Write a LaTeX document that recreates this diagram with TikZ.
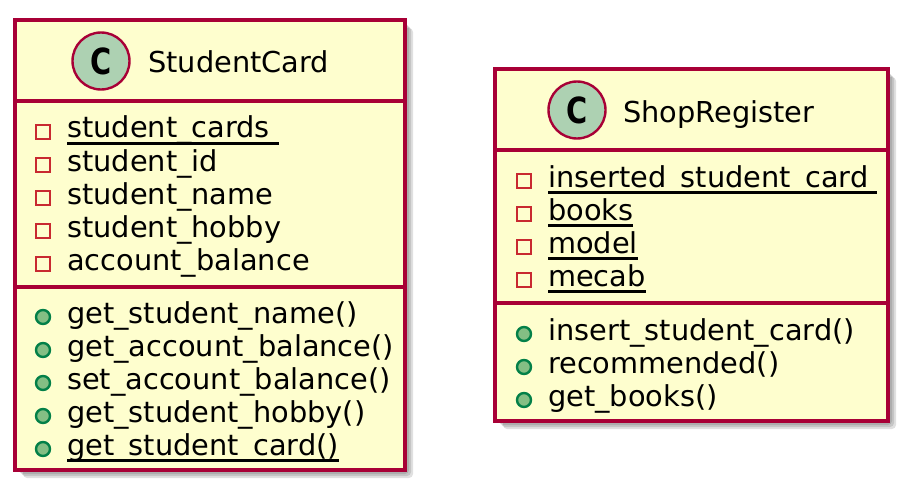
\documentclass[tikz,border=0pt]{standalone}
\usepackage{fontspec}
\setmainfont{DejaVu Sans}
\definecolor{umlfill}{HTML}{FEFECE}
\definecolor{umlborder}{HTML}{A80036}
\definecolor{classicon}{HTML}{ADD1B2}
\definecolor{privline}{HTML}{C82930}
\definecolor{pubfill}{HTML}{84BE84}
\definecolor{publine}{HTML}{038048}
\newcommand{\ulstatic}[1]{\setbox0\hbox{#1}\rlap{\rule[-7pt]{\wd0}{2.8pt}}\box0}

\begin{document}
\begin{tikzpicture}[x=1pt,y=-1pt,
  classbox/.style={draw=umlborder,fill=umlfill,line width=3.4pt},
  sepline/.style={draw=umlborder,line width=3.2pt},
  shadebox/.style={fill=black,opacity=0.12,rounded corners=4pt},
  classmark/.style={circle,draw=umlborder,fill=classicon,line width=2.4pt,minimum size=57pt,inner sep=0pt,font=\fontsize{36}{36}\selectfont\bfseries},
  member/.style={anchor=base west,inner sep=0pt,font=\fontsize{28.8}{30}\selectfont},
  privmark/.style={draw=privline,line width=2.4pt,minimum size=14pt,inner sep=0pt},
  pubmark/.style={circle,draw=publine,fill=pubfill,line width=2.4pt,minimum size=14pt,inner sep=0pt}]
\useasboundingbox (0,0) rectangle (915,500);
% StudentCard
\fill[shadebox] (19,24) rectangle (409,474);
\fill[shadebox] (21,26) rectangle (411,476);
\fill[shadebox] (23,28) rectangle (413,478);
\draw[classbox] (15,20) rectangle (405,470);
\draw[sepline] (15,101) -- (405,101);
\draw[sepline] (15,287) -- (405,287);
\node[classmark] (cardC) at (101,61) {\scalebox{0.8}[1]{C}};
\node[member] (cardName) at (148,73) {StudentCard};
\node[privmark] (cardP1) at (43,132) {};
\node[privmark] (cardP2) at (43,165) {};
\node[privmark] (cardP3) at (43,198) {};
\node[privmark] (cardP4) at (43,231) {};
\node[privmark] (cardP5) at (43,264) {};
\node[member] (cardA1) at (67,138) {\ulstatic{student\_cards\ }};
\node[member] (cardA2) at (67,171) {student\_id};
\node[member] (cardA3) at (67,204) {student\_name};
\node[member] (cardA4) at (67,237) {student\_hobby};
\node[member] (cardA5) at (67,270) {account\_balance};
\node[pubmark] (cardM1c) at (43,317) {};
\node[pubmark] (cardM2c) at (43,350) {};
\node[pubmark] (cardM3c) at (43,383) {};
\node[pubmark] (cardM4c) at (43,416) {};
\node[pubmark] (cardM5c) at (43,449) {};
\node[member] (cardM1) at (67,323) {get\_student\_name()};
\node[member] (cardM2) at (67,356) {get\_account\_balance()};
\node[member] (cardM3) at (67,389) {set\_account\_balance()};
\node[member] (cardM4) at (67,422) {get\_student\_hobby()};
\node[member] (cardM5) at (67,455) {\ulstatic{get\_student\_card()}};
% ShopRegister
\fill[shadebox] (499,73) rectangle (892,425);
\fill[shadebox] (501,75) rectangle (894,427);
\fill[shadebox] (503,77) rectangle (896,429);
\draw[classbox] (495,69) rectangle (888,421);
\draw[sepline] (495,150) -- (888,150);
\draw[sepline] (495,303) -- (888,303);
\node[classmark] (shopC) at (577,110) {\scalebox{0.8}[1]{C}};
\node[member] (shopName) at (623,122) {ShopRegister};
\node[privmark] (shopP1) at (524,181) {};
\node[privmark] (shopP2) at (524,214) {};
\node[privmark] (shopP3) at (524,247) {};
\node[privmark] (shopP4) at (524,280) {};
\node[member] (shopA1) at (548,187) {\ulstatic{inserted\_student\_card\ }};
\node[member] (shopA2) at (548,220) {\ulstatic{books}};
\node[member] (shopA3) at (548,253) {\ulstatic{model}};
\node[member] (shopA4) at (548,286) {\ulstatic{mecab}};
\node[pubmark] (shopM1c) at (524,334) {};
\node[pubmark] (shopM2c) at (524,367) {};
\node[pubmark] (shopM3c) at (524,400) {};
\node[member] (shopM1) at (548,340) {insert\_student\_card()};
\node[member] (shopM2) at (548,373) {recommended()};
\node[member] (shopM3) at (548,406) {get\_books()};
\end{tikzpicture}
\end{document}
